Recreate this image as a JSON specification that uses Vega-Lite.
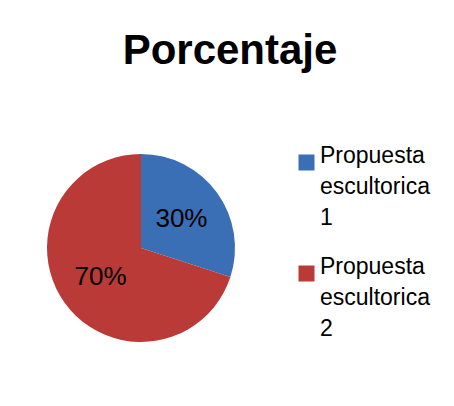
{
  "$schema": "https://vega.github.io/schema/vega-lite/v6.json",
  "autosize": {"type": "none"},
  "width": 188,
  "height": 188,
  "padding": {"left": 47, "top": 154, "right": 219, "bottom": 64},
  "background": "white",
  "title": {
    "text": "Porcentaje",
    "font": "Liberation Sans",
    "fontSize": 42,
    "fontWeight": "bold",
    "color": "black",
    "anchor": "middle",
    "frame": "group",
    "dx": 89,
    "offset": 78
  },
  "data": {
    "values": [
      {"category": "Propuesta escultorica 1", "value": 0.3},
      {"category": "Propuesta escultorica 2", "value": 0.7}
    ]
  },
  "encoding": {
    "theta": {"field": "value", "type": "quantitative", "stack": true},
    "color": {
      "field": "category",
      "type": "nominal",
      "scale": {"domain": ["Propuesta escultorica 1", "Propuesta escultorica 2"], "range": ["#3A6EB5", "#BA3A38"]},
      "legend": {
        "title": null,
        "orient": "none",
        "legendX": 248,
        "legendY": -3,
        "padding": 0,
        "symbolType": "square",
        "symbolSize": 256,
        "symbolStrokeWidth": 0,
        "labelFont": "Liberation Sans",
        "labelFontSize": 23,
        "labelColor": "black",
        "labelLimit": 0,
        "labelOffset": 2,
        "labelBaseline": "alphabetic",
        "rowPadding": 25,
        "labelExpr": "split(datum.label, ' ')"
      }
    }
  },
  "layer": [
    {"mark": {"type": "arc", "outerRadius": 94}},
    {
      "mark": {"type": "text", "radius": 50, "font": "Liberation Sans", "fontSize": 26, "color": "black"},
      "encoding": {
        "text": {"field": "value", "type": "quantitative", "format": ".0%"},
        "color": {"value": "black"}
      }
    }
  ],
  "config": {"view": {"stroke": null}, "style": {"guide-label": {"lineHeight": 31}}}
}
